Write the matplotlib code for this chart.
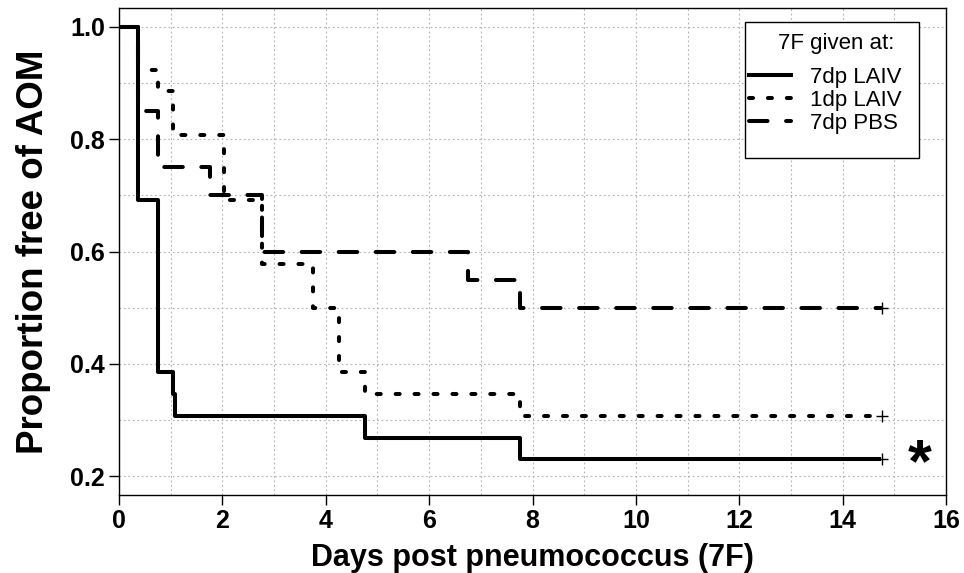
import matplotlib
matplotlib.use("Agg")
import matplotlib.pyplot as plt
from matplotlib.lines import Line2D
from matplotlib.patches import Rectangle
from matplotlib.ticker import MultipleLocator

plt.rcParams['font.family'] = ['Liberation Sans', 'DejaVu Sans']

# Kaplan-Meier step data (time in days, proportion free of AOM)
laiv7_t = [0, 0.36, 0.76, 1.05, 1.09, 4.76, 7.76, 14.75]
laiv7_s = [1.0, 0.692, 0.385, 0.346, 0.308, 0.269, 0.231, 0.231]

laiv1_t = [0, 0.36, 0.76, 1.05, 2.04, 2.77, 3.76, 4.26, 4.76, 7.76, 14.75]
laiv1_s = [1.0, 0.923, 0.885, 0.808, 0.692, 0.577, 0.5, 0.385, 0.346, 0.308, 0.308]

pbs7_t = [0, 0.36, 0.76, 1.76, 2.77, 6.76, 7.76, 14.75]
pbs7_s = [1.0, 0.85, 0.75, 0.70, 0.60, 0.55, 0.50, 0.50]

series_labels = ['7dp LAIV', '1dp LAIV', '7dp PBS']
legend_title = '7F given at:'
censor_time = 14.77

xticks = [0, 2, 4, 6, 8, 10, 12, 14, 16]
yticks = [0.2, 0.4, 0.6, 0.8, 1.0]

W, H = 964, 573
fig = plt.figure(figsize=(W / 100, H / 100), dpi=100)
ax = fig.add_axes([119 / W, 1 - 495 / H, (946 - 119) / W, (495 - 8) / H])

lw = 2.9
styles = [
    dict(linestyle='-'),
    dict(linestyle=(0, (1.0, 3.7))),
    dict(linestyle=(0, (4.6, 4.6))),
]
data = [(laiv7_t, laiv7_s), (laiv1_t, laiv1_s), (pbs7_t, pbs7_s)]
handles = []
for (t, s), st in zip(data, styles):
    ax.step(t, s, where='post', color='black', lw=lw,
            dash_capstyle='round', solid_capstyle='butt', zorder=3, **st)
    # censored observations at end of follow-up
    ax.plot([censor_time], [s[-1]], marker='+', color='black', ms=8,
            mew=1.0, zorder=4)
    handles.append(Line2D([], [], color='black', lw=lw,
                          dash_capstyle='round', **st))

ax.set_xlim(0, 16)
ax.set_ylim(0.1667, 1.0333)
ax.set_xticks(xticks)
ax.set_yticks(yticks)
ax.set_yticklabels([f'{v:.1f}' for v in yticks])
ax.xaxis.set_minor_locator(MultipleLocator(1))
ax.yaxis.set_minor_locator(MultipleLocator(0.1))
ax.grid(which='both', color='#b0b0b0', linestyle=(0, (1.5, 2.5)), lw=0.8)
ax.set_axisbelow(True)
ax.tick_params(which='major', direction='out', length=7, width=1,
               labelsize=18, pad=3)
ax.tick_params(which='minor', length=0)
for lbl in ax.get_xticklabels() + ax.get_yticklabels():
    lbl.set_fontweight('bold')
for sp in ax.spines.values():
    sp.set_linewidth(1.0)

ax.set_xlabel('Days post pneumococcus (7F)', fontsize=22, fontweight='bold',
              labelpad=7)
ax.set_ylabel('Proportion free of AOM', fontsize=26.5, fontweight='bold',
              labelpad=14)

# legend: framed box with centred title and entries beneath
fig.patches.append(Rectangle((745 / W, 1 - 158 / H), (919 - 745) / W, (158 - 22) / H,
                             transform=fig.transFigure, facecolor='white',
                             edgecolor='black', lw=1.0, zorder=5))
fig.text(836 / W, 1 - 43 / H, legend_title, fontsize=16, ha='center',
         va='center', zorder=6)
leg = fig.legend(handles, series_labels, loc='upper left',
                 bbox_to_anchor=(749 / W, 1 - 67 / H),
                 fontsize=16, frameon=False, handlelength=1.9,
                 handletextpad=0.85, labelspacing=0.08, borderpad=0,
                 borderaxespad=0)
leg.set_zorder(6)

ax.text(15.5, 0.218, '*', fontsize=44, fontweight='bold', ha='center',
        va='center')

fig.savefig('out.png', dpi=100)
